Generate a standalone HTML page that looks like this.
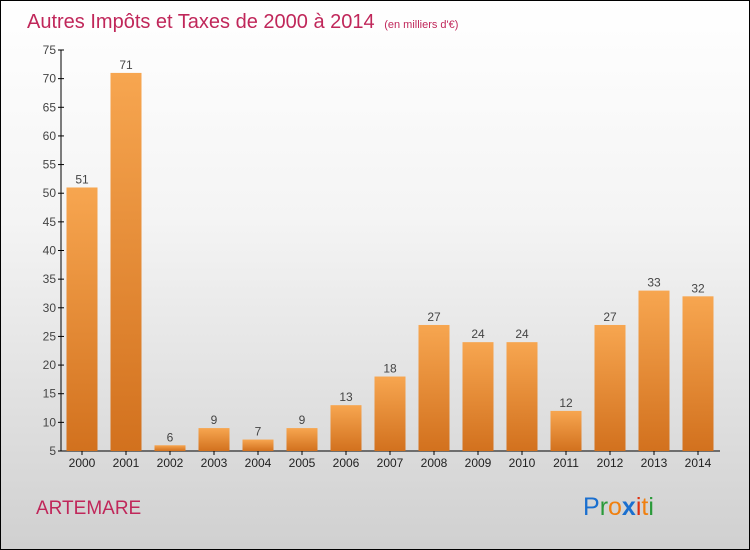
<!DOCTYPE html>
<html><head><meta charset="utf-8"><style>
html,body{margin:0;padding:0}
body{width:750px;height:550px;overflow:hidden;font-family:"Liberation Sans",sans-serif}
#frame{position:absolute;left:0;top:0;width:748px;height:548px;border:1px solid #000;background:linear-gradient(#fff 0%,#f4f4f4 40%,#d0d0d0 100%)}
</style></head><body>
<div id="frame">
<svg width="750" height="550" style="position:absolute;left:-1px;top:-1px" id="chart">
<defs><linearGradient id="bg" x1="0" y1="0" x2="0" y2="1"><stop offset="0" stop-color="#f7a650"/><stop offset="1" stop-color="#d2711e"/></linearGradient></defs>
<text x="27" y="28" font-size="20" fill="#c0275a">Autres Impôts et Taxes de 2000 à 2014 <tspan font-size="11" dx="4">(en milliers d'€)</tspan></text>
<text x="36" y="514" font-size="19" fill="#c0275a">ARTEMARE</text>
<text x="583" y="515" font-size="25"><tspan fill="#1a6fcf">P</tspan><tspan fill="#2a9a3a">r</tspan><tspan fill="#f08010">o</tspan><tspan fill="#1a6fcf" font-weight="bold">x</tspan><tspan fill="#e03010">i</tspan><tspan fill="#f08010">t</tspan><tspan fill="#2a9a3a">i</tspan></text>
<g id="g"></g>
</svg></div>
<script>
const years=["2000","2001","2002","2003","2004","2005","2006","2007","2008","2009","2010","2011","2012","2013","2014"];
const values=[51,71,6,9,7,9,13,18,27,24,24,12,27,33,32];
const ticks=[5,10,15,20,25,30,35,40,45,50,55,60,65,70,75];
const NS="http://www.w3.org/2000/svg",g=document.getElementById('g');
const y=v=>451-(v-5)*401/70, x=i=>82+44*i;
function el(t,a){const e=document.createElementNS(NS,t);for(const k in a)e.setAttribute(k,a[k]);g.appendChild(e);return e;}
const ax=el('line',{x1:61,y1:50,x2:61,y2:451,stroke:'#000'});


const bx=el('line',{x1:61,y1:451,x2:720,y2:451,stroke:'#000'});


ticks.forEach(t=>{el('line',{x1:58,x2:64,y1:y(t),y2:y(t),stroke:'#000'});
const l=el('text',{x:56,y:y(t)+4,'font-size':12,fill:'#444','text-anchor':'end'});l.textContent=t;

});
years.forEach((yr,i)=>{const v=values[i];
const r=el('rect',{x:x(i)-15.5,y:y(v),width:31,height:451-y(v),fill:'url(#bg)'});


el('line',{x1:x(i),x2:x(i),y1:451,y2:455,stroke:'#000'});
const vl=el('text',{x:x(i),y:y(v)-4,'font-size':12,fill:'#444','text-anchor':'middle'});vl.textContent=v;


const xl=el('text',{x:x(i),y:467,'font-size':12,fill:'#222','text-anchor':'middle'});xl.textContent=yr;

});
</script>
</body></html>
